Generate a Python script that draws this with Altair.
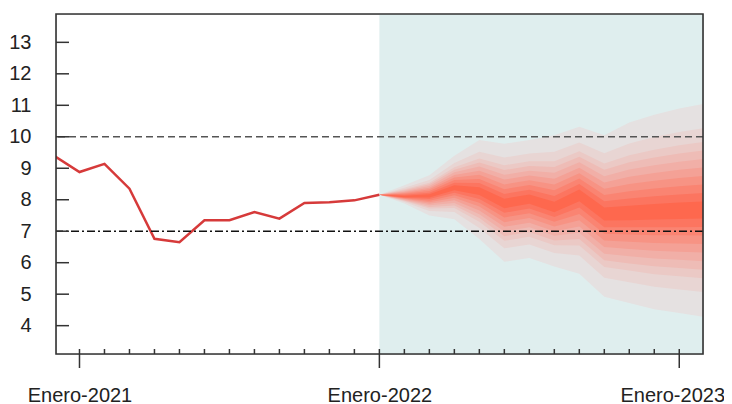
import altair as alt
import pandas as pd

# ---- data ----
# months counted from Enero-2021 (0), Enero-2022 (12), Enero-2023 (24)
hist_month = list(range(-1, 13))
hist_value = [9.39, 8.88, 9.14, 8.35, 6.76, 6.65, 7.35, 7.35, 7.61, 7.40, 7.90, 7.92, 7.98, 8.16]

fan_month = list(range(12, 26))
fan_center = [8.16, 8.10, 8.12, 8.38, 8.27, 7.88, 8.02, 7.75, 8.15, 7.55, 7.58, 7.62, 7.65, 7.68]
fan_upper = [8.16, 8.46, 8.78, 9.40, 9.90, 9.78, 9.90, 10.05, 10.32, 10.05, 10.45, 10.70, 10.90, 11.05]
fan_lower = [8.16, 7.88, 7.50, 7.38, 6.75, 6.03, 6.15, 5.88, 5.65, 4.92, 4.72, 4.52, 4.40, 4.28]
# relative half-widths of the fan bands (outer -> inner)
band_frac = [1.0, 0.77, 0.64, 0.56, 0.48, 0.40, 0.32, 0.24, 0.16, 0.08]
band_colors = ["#e5e1e1", "#e8d5d3", "#ebc9c5", "#eebcb6", "#f1afa7", "#f4a196",
               "#f79384", "#fa8472", "#fc7560", "#fe684e"]

ref_lines = [10, 7]
y_ticks = [4, 5, 6, 7, 8, 9, 10, 11, 12, 13]
major_months = [0, 12, 24]
major_labels = ["Enero-2021", "Enero-2022", "Enero-2023"]
minor_months = [m for m in range(1, 24) if m not in major_months]

shade_start, shade_end = 12, 26
x_domain = [-0.94, 24.95]
y_domain = [3.1, 13.9]

W, H = 647, 340
FONT = "Liberation Sans"

xs = alt.Scale(domain=x_domain, nice=False, zero=False)
ys = alt.Scale(domain=y_domain, nice=False, zero=False)

label_expr = " : ".join(
    f"datum.value == {m} ? '{l}'" for m, l in zip(major_months, major_labels)
) + " : ''"

x_axis = alt.Axis(values=major_months, labelExpr=label_expr, ticks=False, domain=False,
                  grid=False, title=None, labelPadding=31, labelFontSize=20,
                  labelFont=FONT, labelColor="#222", labelFlush=False, labelOverlap=False,
                  labelOffset={"condition": {"test": "datum.value == 24", "value": -7}, "value": 0})
y_axis = alt.Axis(values=y_ticks, ticks=False, domain=False, grid=False, title=None,
                  labelPadding=25, labelFontSize=20, labelFont=FONT, labelColor="#222",
                  labelOverlap=False, labelFlush=False)


def X(field):
    return alt.X(field, scale=xs, axis=x_axis)


def Y(field):
    return alt.Y(field, scale=ys, axis=y_axis)


shade_df = pd.DataFrame({"x": [shade_start], "x2": [shade_end]})
shade = alt.Chart(shade_df).mark_rect(color="#dfeeee", clip=True).encode(
    x=X("x:Q"), x2="x2:Q", y=alt.value(0), y2=alt.value(H)
)

layers = [shade]
for frac, col in zip(band_frac, band_colors):
    df = pd.DataFrame({
        "m": fan_month,
        "hi": [c + frac * (u - c) for c, u in zip(fan_center, fan_upper)],
        "lo": [c - frac * (c - l) for c, l in zip(fan_center, fan_lower)],
    })
    layers.append(
        alt.Chart(df).mark_area(color=col, clip=True, opacity=1).encode(
            x=X("m:Q"), y=Y("hi:Q"), y2="lo:Q",
        )
    )

hist_df = pd.DataFrame({"m": hist_month, "v": hist_value})
line = alt.Chart(hist_df).mark_line(color="#d63a3a", strokeWidth=2.5, clip=True).encode(
    x=X("m:Q"), y=Y("v:Q")
)

ref10 = alt.Chart(pd.DataFrame({"y": [ref_lines[0]]})).mark_rule(
    color="#555555", strokeWidth=1.6, strokeDash=[7, 4]).encode(y=Y("y:Q"))
ref7 = alt.Chart(pd.DataFrame({"y": [ref_lines[1]]})).mark_rule(
    color="#111111", strokeWidth=1.4, strokeDash=[8, 3, 2, 3]).encode(y=Y("y:Q"))

ytick = alt.Chart(pd.DataFrame({"y": y_ticks})).mark_rule(color="#333", strokeWidth=1.5).encode(
    y=Y("y:Q"), x=alt.value(0), x2=alt.value(13))
minor = alt.Chart(pd.DataFrame({"m": minor_months})).mark_rule(color="#333", strokeWidth=1.5).encode(
    x=X("m:Q"), y=alt.value(H - 5), y2=alt.value(H))
major = alt.Chart(pd.DataFrame({"m": major_months})).mark_rule(color="#333", strokeWidth=1.5).encode(
    x=X("m:Q"), y=alt.value(H - 5), y2=alt.value(H + 14))

frame = alt.Chart(pd.DataFrame({"a": [0]})).mark_rect(
    fillOpacity=0, stroke="#333333", strokeWidth=1.6).encode(
    x=alt.value(0), x2=alt.value(W), y=alt.value(0), y2=alt.value(H))

layers += [line, ref10, ref7, ytick, minor, major, frame]

chart = alt.layer(*layers).properties(
    width=W, height=H,
    autosize=alt.AutoSizeParams(type="none"),
    padding={"left": 48, "top": 6, "right": 21, "bottom": 50},
).configure_view(stroke=None).configure(background="white")

chart.save("out.html", embed_options={"renderer": "svg", "actions": False})
